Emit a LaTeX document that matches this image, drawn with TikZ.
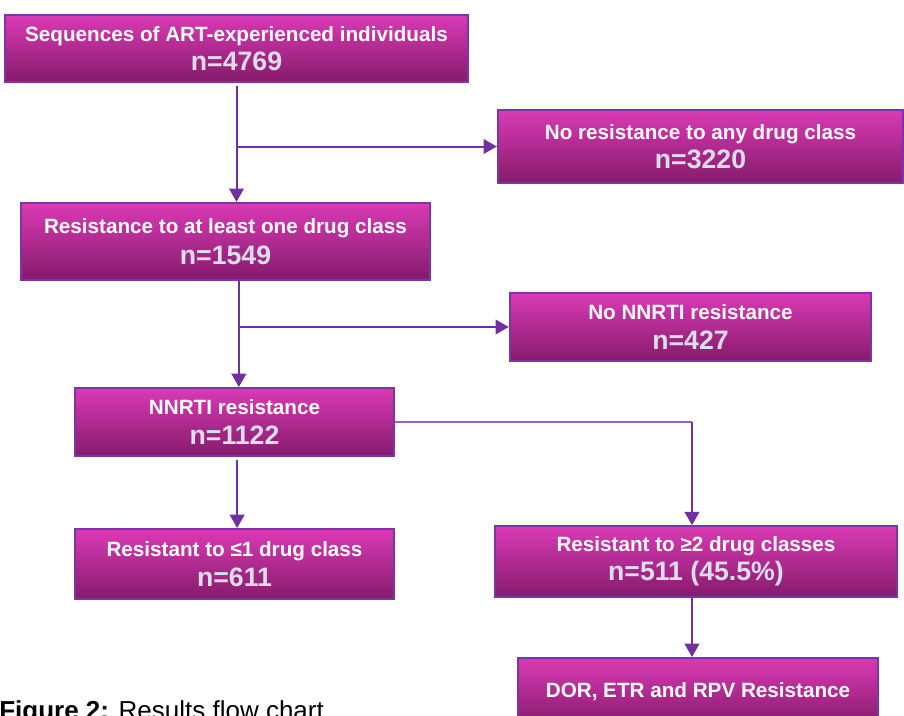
\documentclass[tikz,border=0pt]{standalone}
\usepackage{fontspec}
\setmainfont{Liberation Sans}
\usepackage{tikz}
\usetikzlibrary{arrows.meta}

\definecolor{box_top}{RGB}{218,58,181}
\definecolor{box_bottom}{RGB}{133,27,107}
\definecolor{box_border}{RGB}{122,53,168}
\definecolor{link_purple}{RGB}{112,48,160}
\definecolor{thin_purple}{RGB}{150,100,195}
\definecolor{count_grey}{RGB}{221,221,236}

\newcommand{\countline}[1]{{\fontsize{20}{22}\selectfont\color{count_grey}#1}}

\tikzset{
    resbox/.style={draw=box_border, line width=1.5pt, top color=box_top, bottom color=box_bottom,
        text=white, align=center, inner sep=0pt, font=\bfseries\fontsize{15.5}{22}\selectfont},
    flow/.style={draw=link_purple, line width=1.5pt, -{Triangle[width=11pt,length=10pt]}},
    thinbranch/.style={draw=thin_purple, line width=0.8pt}
}

\begin{document}
\begin{tikzpicture}[x=0.75pt, y=-0.75pt]
        \useasboundingbox (0,0) rectangle (904,715);
        \clip (0,0) rectangle (904,715);
        % boxes
        \node[resbox, minimum width=347pt, minimum height=50pt] (seqs) at (236.5,48.5)
            {Sequences of ART-experienced individuals\\\countline{n=4769}};
        \node[resbox, minimum width=304pt, minimum height=55pt] (nores) at (700.5,146.5)
            {No resistance to any drug class\\\countline{n=3220}};
        \node[resbox, minimum width=307pt, minimum height=58pt] (anyres) at (225.5,241.5)
            {Resistance to at least one drug class\\[1pt]\countline{n=1549}};
        \node[resbox, minimum width=271pt, minimum height=51pt] (nonnrti) at (690.5,327)
            {No NNRTI resistance\\\countline{n=427}};
        \node[resbox, minimum width=239pt, minimum height=51pt] (nnrti) at (234.5,422)
            {NNRTI resistance\\\countline{n=1122}};
        \node[resbox, minimum width=239pt, minimum height=52.5pt] (single) at (234.5,564)
            {Resistant to ≤1 drug class\\\countline{n=611}};
        \node[resbox, minimum width=301.5pt, minimum height=53pt] (multi) at (696,561.5)
            {Resistant to ≥2 drug classes\\\countline{n=511 (45.5\%)}};
        \node[resbox, minimum width=270pt, minimum height=51pt] (dorres) at (698,692)
            {DOR, ETR and RPV Resistance};
        % caption
        \node[anchor=base west, inner sep=0pt, font=\fontsize{19.5}{22}\selectfont] (caption) at (-1,719)
            {\textbf{Figure 2:} Results flow chart};
        % arrows
        \draw[flow] ([yshift=-2pt]seqs.south) -- (seqs.south |- anyres.north);
        \draw[flow] (seqs.south |- nores.west) -- (nores.west);
        \draw[flow] ([xshift=10pt]anyres.south) -- ([xshift=10pt]anyres.south |- nnrti.north);
        \draw[flow] ([xshift=10pt]anyres.south |- nonnrti.west) -- (nonnrti.west);
        \draw[flow] ([xshift=2pt,yshift=-2pt]nnrti.south) -- ([xshift=2pt]single.north);
        \coordinate (turn) at ([xshift=-3pt]nnrti.east -| multi.north);
        \draw[thinbranch] (nnrti.east) -- (turn);
        \draw[flow] (turn) -- ([xshift=-3pt]multi.north);
        \draw[flow] ([xshift=-3pt]multi.south) -- ([xshift=-3pt]multi.south |- dorres.north);
\end{tikzpicture}
\end{document}
